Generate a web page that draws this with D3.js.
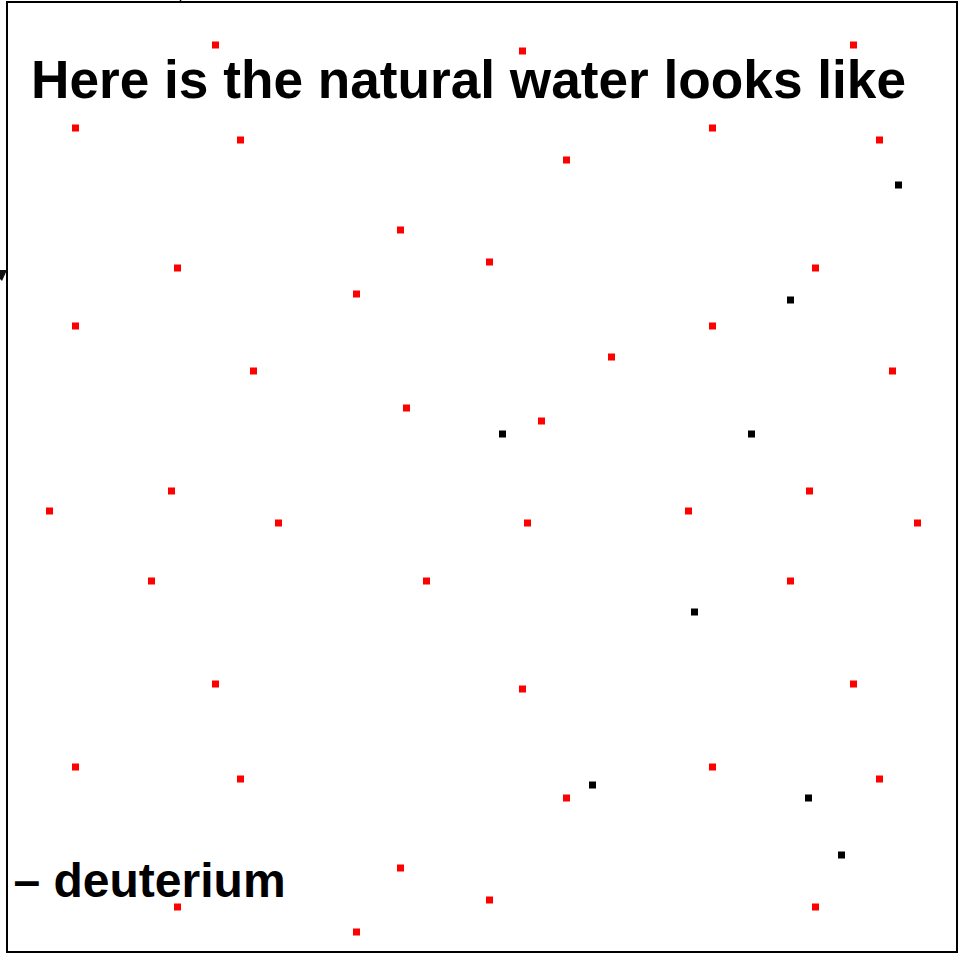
<!DOCTYPE html>
<html>
<head>
<meta charset="utf-8">
<script src="https://cdn.jsdelivr.net/npm/d3@7"></script>
<style>
html,body{margin:0;padding:0;background:#fff;}
svg{display:block;}
</style>
</head>
<body>
<script>
// Hydrogen (red) positions in plot units (0..950 across, 0..950 down)
const hydrogenX = [208,515,846, 68,233,559,705,872, 393,170,482,808, 349, 68,705, 604,246,885, 399,534, 164,42,271,520,681,802,910, 144,419,783, 208,515,846, 68,233,559,705,872, 393,170,482,808, 349];
const hydrogenY = [42,48,42, 125,137,157,125,137, 227,265,259,265, 291, 323,323, 354,368,368, 405,418, 488,508,520,520,508,488,520, 578,578,578, 681,686,681, 764,776,795,764,776, 865,904,897,904, 929];
// Deuterium (black) positions
const deuteriumX = [891,783,495,744,687,585,801,834];
const deuteriumY = [182,297,431,431,609,782,795,852];
const titleText = "Here is the natural water looks like";
const legendText = "– deuterium";

const W = 960, H = 955;
const mLeft = 7, mTop = 2, mRight = 957, mBottom = 952;

const svg = d3.select("body").append("svg").attr("width", W).attr("height", H);

const x = d3.scaleLinear().domain([0, 950]).range([mLeft + 0.5, mRight + 0.5]);
const y = d3.scaleLinear().domain([0, 950]).range([mTop + 1, mBottom + 1]);

// clipped artifacts at the edge
svg.append("line").attr("x1", 180.5).attr("x2", 180.5).attr("y1", 0).attr("y2", 3)
  .attr("stroke", "#000").attr("stroke-width", 1.5);
svg.append("path").attr("d", "M0,270 L7,270 L2,281 L0,279 Z").attr("fill", "#111");

// frame
svg.append("rect").attr("x", mLeft).attr("y", mTop).attr("width", mRight - mLeft).attr("height", mBottom - mTop)
  .attr("fill", "none").attr("stroke", "#000").attr("stroke-width", 2);

const sz = 7;
const red = d3.range(hydrogenX.length).map(i => ({x: hydrogenX[i], y: hydrogenY[i]}));
const blk = d3.range(deuteriumX.length).map(i => ({x: deuteriumX[i], y: deuteriumY[i]}));

svg.append("g").selectAll("rect").data(red).join("rect")
  .attr("x", d => x(d.x) - sz/2).attr("y", d => y(d.y) - sz/2)
  .attr("width", sz).attr("height", sz).attr("fill", "#ff0000");
svg.append("g").selectAll("rect").data(blk).join("rect")
  .attr("x", d => x(d.x) - sz/2).attr("y", d => y(d.y) - sz/2)
  .attr("width", sz).attr("height", sz).attr("fill", "#000");

svg.append("text").attr("x", 31).attr("y", 98)
  .attr("font-family", "Liberation Sans, Arial, sans-serif").attr("font-weight", "bold")
  .attr("font-size", 53.2).attr("fill", "#000").text(titleText);

svg.append("text").attr("x", 13.5).attr("y", 897)
  .attr("font-family", "Liberation Sans, Arial, sans-serif").attr("font-weight", "bold")
  .attr("font-size", 48).attr("fill", "#000").text(legendText);
</script>
</body>
</html>
